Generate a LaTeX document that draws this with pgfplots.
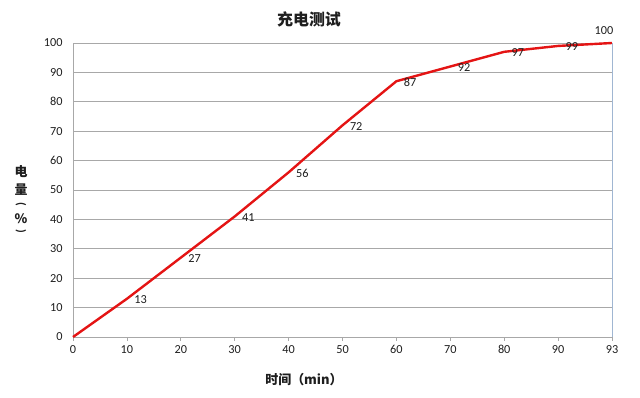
\documentclass[border=0pt]{standalone}
\usepackage{pgfplots}
\pgfplotsset{compat=1.18}
\usepackage{fontspec}
\setmainfont{Carlito}
\newfontfamily\cjk{Noto Sans CJK SC}
\definecolor{linered}{RGB}{228,20,20}
\definecolor{gridgray}{RGB}{168,168,168}
\definecolor{bordblue}{RGB}{160,182,210}
\definecolor{txt}{RGB}{30,30,30}
\begin{document}
\begin{tikzpicture}[x=1bp,y=1bp]
\path[use as bounding box] (-73,-60) rectangle (567,337);
\begin{axis}[at={(0,0)}, anchor=south west, scale only axis,
  width=539bp, height=294bp,
  xmin=0, xmax=10, ymin=0, ymax=100,
  xtick={0,...,10}, xticklabels={0,10,20,30,40,50,60,70,80,90,93},
  ytick={0,10,...,100},
  axis x line*=bottom, axis y line*=left,
  axis line style={gridgray, line width=0.8bp, -},
  ymajorgrids, grid style={gridgray, line width=0.8bp},
  tick align=outside, major tick length=4bp,
  tick style={gridgray, line width=0.8bp},
  ytick style={draw=none},
  ticklabel style={font=\fontsize{12.3}{14}\selectfont, text=txt},
  /pgf/number format/assume math mode=true,
  yticklabel style={xshift=-3bp},
  xticklabel style={yshift=-1bp},
  clip=false,
]
\addplot[linered, line width=2.4bp, mark=none,
  nodes near coords={\pgfplotspointmeta},
  point meta=explicit symbolic,
  every node near coord/.style={anchor=west, xshift=3bp, yshift=-1bp,
    font=\fontsize{12.3}{14}\selectfont, text=txt}]
  coordinates {(0,0) [] (1,13) [13] (2,27) [27] (3,41) [41] (4,56) [56]
    (5,72) [72] (6,87) [87] (7,92) [92] (8,97) [97] (9,99) [99] (10,100) []};
\addplot[draw=none, mark=none,
  nodes near coords={\pgfplotspointmeta},
  point meta=explicit symbolic,
  every node near coord/.style={anchor=south, xshift=-8bp, yshift=5bp,
    font=\fontsize{12.3}{14}\selectfont, text=txt}]
  coordinates {(10,100) [100]};
\draw[bordblue, line width=0.9bp] (axis cs:10,0) -- (axis cs:10,100);
\end{axis}
\node[font=\cjk\bfseries\fontsize{16}{19}\selectfont, text=txt] at (236,318) {充电测试};
\node[font=\cjk\bfseries\fontsize{13}{16}\selectfont, text=txt] at (231,-43) {时间（min）};
\begin{scope}[every node/.style={font=\cjk\bfseries\fontsize{13}{16}\selectfont, text=txt, inner sep=0pt}]
\node at (-52,165) {电};
\node at (-52,147) {量};
\node[font=\bfseries\fontsize{12}{14}\selectfont] at (-52,133) {\rotatebox{-90}{(}};
\node at (-52,118) {\%};
\node[font=\bfseries\fontsize{12}{14}\selectfont] at (-52,106) {\rotatebox{-90}{)}};
\end{scope}
\end{tikzpicture}
\end{document}
